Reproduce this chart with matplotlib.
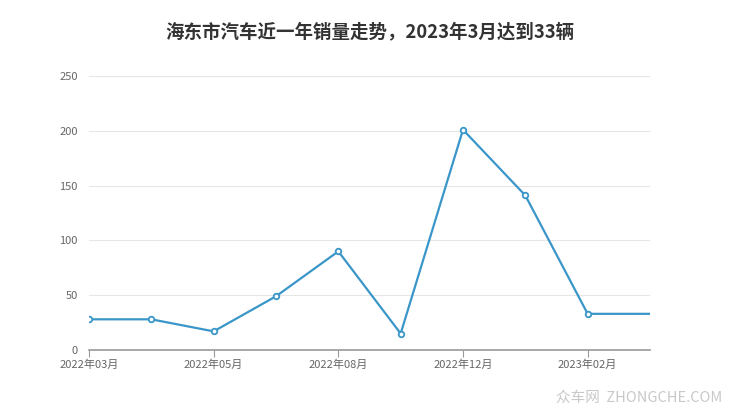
import matplotlib
matplotlib.use('Agg')
import matplotlib.pyplot as plt

plt.rcParams['font.family'] = ['Noto Sans CJK SC', 'DejaVu Sans']

months = ['2022年03月', '2022年04月', '2022年05月', '2022年07月', '2022年08月',
          '2022年10月', '2022年12月', '2023年01月', '2023年02月', '2023年03月']
sales = [28, 28, 17, 49, 90, 15, 201, 141, 33, 33]
yticks = [0, 50, 100, 150, 200, 250]

line_color = '#3a96c9'

fig = plt.figure(figsize=(7.4, 4.17), dpi=100)
ax = fig.add_axes([89 / 740, 67 / 417, 561 / 740, 274 / 417])

x = list(range(len(months)))
ax.plot(x, sales, color=line_color, linewidth=1.6, marker='o', markersize=4,
        markerfacecolor='white', markeredgecolor=line_color, markeredgewidth=1.3,
        markevery=list(range(len(months) - 1)), zorder=3)

ax.set_xlim(0, len(months) - 1)
ax.set_ylim(0, 250)
ax.set_yticks(yticks)
ax.set_xticks(x[::2])
ax.set_xticklabels(months[::2])

ax.grid(axis='y', color='#e6e6e6', linewidth=0.8)
ax.set_axisbelow(True)
for side in ['top', 'right', 'left']:
    ax.spines[side].set_visible(False)
ax.spines['bottom'].set_color('#999999')
ax.spines['bottom'].set_linewidth(1.2)
ax.tick_params(axis='y', length=0, pad=8, labelsize=8, labelcolor='#666666')
ax.tick_params(axis='x', length=5, color='#999999', labelsize=8, labelcolor='#666666', pad=2)

fig.text(0.5, 1 - 32 / 417, '海东市汽车近一年销量走势，2023年3月达到33辆', ha='center', va='center',
         fontsize=13.3, fontweight='bold', color='#333333')
fig.text(722 / 740, 1 - 398 / 417, '众车网  ZHONGCHE.COM', ha='right', va='center',
         fontsize=10.5, color='#c8c8c8')

fig.savefig('out.png', dpi=100)
